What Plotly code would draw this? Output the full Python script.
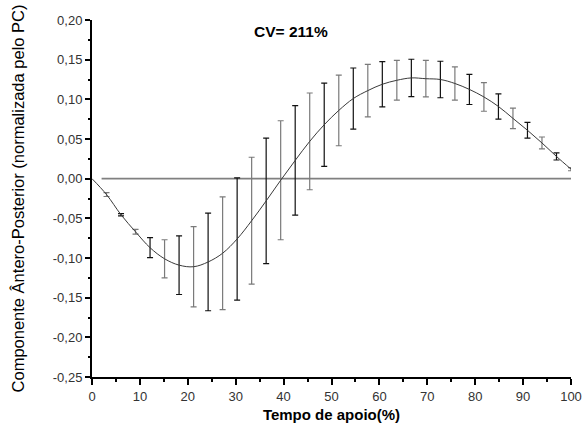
import plotly.graph_objects as go

# Stance time (%) and mean normalized antero-posterior component
tempo = [0, 3.03, 6.06, 9.09, 12.12, 15.15, 18.18, 21.21, 24.24, 27.27, 30.30,
         33.33, 36.36, 39.39, 42.42, 45.45, 48.48, 51.52, 54.55, 57.58, 60.61,
         63.64, 66.67, 69.70, 72.73, 75.76, 78.79, 81.82, 84.85, 87.88, 90.91,
         93.94, 96.97, 100]
media = [0, -0.020, -0.0455, -0.067, -0.087, -0.101, -0.109, -0.111, -0.105,
         -0.094, -0.076, -0.053, -0.028, -0.002, 0.023, 0.047, 0.068, 0.086,
         0.101, 0.111, 0.119, 0.124, 0.127, 0.126, 0.125, 0.120, 0.1125, 0.103,
         0.091, 0.076, 0.061, 0.045, 0.028, 0.012]
desvio = [0, 0.0025, 0.0015, 0.003, 0.0126, 0.024, 0.037, 0.0505, 0.0615,
          0.071, 0.077, 0.080, 0.079, 0.075, 0.069, 0.061, 0.0525, 0.0445,
          0.0385, 0.033, 0.0285, 0.025, 0.0235, 0.023, 0.023, 0.021, 0.019,
          0.018, 0.016, 0.013, 0.010, 0.0075, 0.0045, 0.002]

zero_x = [2, 100]
zero_y = [0, 0]

y_ticks = [0.20, 0.15, 0.10, 0.05, 0.00, -0.05, -0.10, -0.15, -0.20, -0.25]
y_labels = ["0,20", "0,15", "0,10", "0,05", "0,00", "-0,05", "-0,10", "-0,15", "-0,20", "-0,25"]
x_ticks = [0, 10, 20, 30, 40, 50, 60, 70, 80, 90, 100]
x_labels = ["0", "10", "20", "30", "40", "50", "60", "70", "80", "90", "100"]

annot_text = "CV= 211%"

fig = go.Figure()

fig.add_trace(go.Scatter(x=zero_x, y=zero_y, mode="lines",
                         line=dict(color="#808080", width=1.6),
                         hoverinfo="skip", showlegend=False))

# error bars, alternating tone as in the original raster
for parity, col in [(0, "#111111"), (1, "#7a7a7a")]:
    idx = [i for i in range(len(tempo)) if i % 2 == parity and i > 0]
    fig.add_trace(go.Scatter(
        x=[tempo[i] for i in idx], y=[media[i] for i in idx],
        mode="markers", marker=dict(size=1, color="rgba(0,0,0,0)"),
        error_y=dict(type="data", array=[desvio[i] for i in idx],
                     color=col, thickness=1.2, width=3),
        showlegend=False, hoverinfo="skip"))

fig.add_trace(go.Scatter(x=tempo, y=media, mode="lines",
                         line=dict(color="#3a3a3a", width=1, shape="spline", smoothing=1),
                         showlegend=False))

axis_font = dict(family="Liberation Sans, Arial, sans-serif", size=13, color="#333333")

fig.update_layout(
    width=583, height=430,
    margin=dict(l=92, r=12, t=20, b=53),
    paper_bgcolor="white", plot_bgcolor="white",
    xaxis=dict(range=[0, 100], showgrid=False, zeroline=False, automargin=False,
               showline=True, linecolor="black", linewidth=2,
               ticks="outside", ticklen=6, tickwidth=2, tickcolor="black",
               tickvals=x_ticks, ticktext=x_labels, tickfont=axis_font,
               minor=dict(ticks="outside", ticklen=3, tickwidth=2, dtick=5, tickcolor="black"),
               title=dict(text="<b>Tempo de apoio(%)</b>", standoff=7,
                          font=dict(family="Liberation Sans, Arial, sans-serif", size=15, color="black"))),
    yaxis=dict(range=[-0.25, 0.20], showgrid=False, zeroline=False, automargin=False,
               showline=True, linecolor="black", linewidth=2,
               ticks="outside", ticklen=5, tickwidth=2, tickcolor="black",
               tickvals=y_ticks, ticktext=y_labels, tickfont=axis_font,
               minor=dict(ticks="outside", ticklen=2, tickwidth=2, dtick=0.025, tickcolor="black"),
               title=dict(text="Componente Ântero-Posterior (normalizada pelo PC)", standoff=24,
                          font=dict(family="Liberation Sans, Arial, sans-serif", size=16.5, color="black"))),
    annotations=[dict(x=41.5, y=0.185, xref="x", yref="y", text="<b>" + annot_text + "</b>",
                      showarrow=False,
                      font=dict(family="Liberation Sans, Arial, sans-serif", size=15.5, color="black"))],
)

fig.write_html("out.html")
